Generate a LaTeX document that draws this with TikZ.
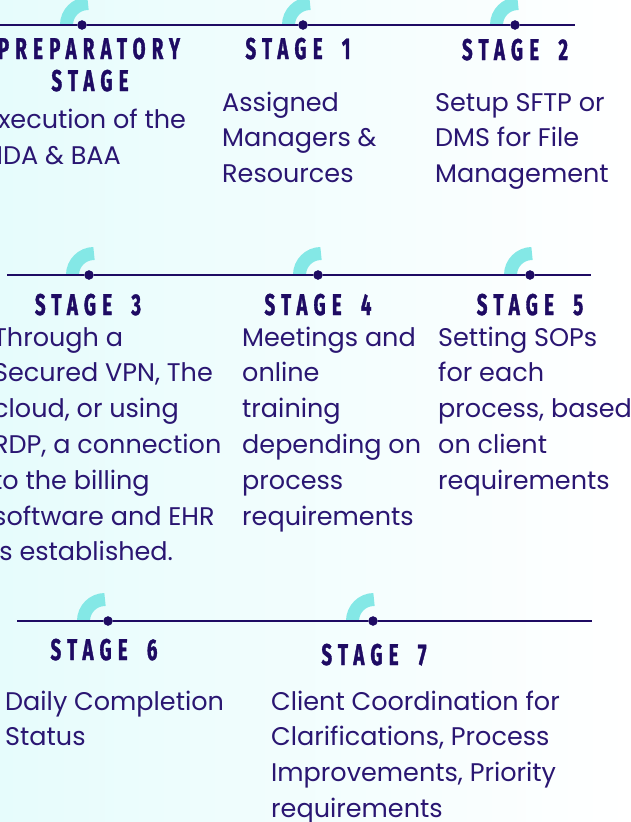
\documentclass[tikz,border=0pt]{standalone}
\usepackage{fontspec}
\setmainfont{Poppins}
\newfontfamily\stagefont{Fira Sans}[FakeStretch=0.62,LetterSpace=21,FakeBold=1.2,WordSpace=1.8]
\usetikzlibrary{positioning,calc}
\definecolor{tl}{HTML}{1E0B63}
\definecolor{tx}{HTML}{2A1672}
\definecolor{ringc}{HTML}{84E8E6}
\definecolor{bgl}{HTML}{E6FCFC}

\begin{document}
\begin{tikzpicture}[x=1pt,y=-1pt,
  dot/.style={draw=tl,fill=tl,circle,inner sep=0pt,minimum size=9pt},
  ring/.style={draw=ringc,line width=13pt,line cap=butt},
  tline/.style={draw=tl,line width=2.2pt},
  title/.style={anchor=base,text=tl,font=\stagefont\bfseries\fontsize{30}{32}\selectfont,inner sep=0pt},
  body/.style={anchor=base west,align=left,text=tx,font=\fontsize{25.5}{35.8}\selectfont,inner sep=0pt}]

\useasboundingbox(0,0)rectangle(630,822);
\clip(0,0)rectangle(630,822);
\shade[left color=bgl,right color=white](0,0)rectangle(630,822);

% timeline dots
\node[dot](d0) at (82,25) {};
\node[dot](d1) at (303,25) {};
\node[dot](d2) at (515,25) {};
\node[dot](d3) at (89,275) {};
\node[dot](d4) at (318,275) {};
\node[dot](d5) at (530,275) {};
\node[dot](d6) at (108,621) {};
\node[dot](d7) at (373,621) {};

\coordinate(a1) at (0,25);
\coordinate(b1) at (575,25);
\coordinate(a2) at (7,275);
\coordinate(b2) at (591,275);
\coordinate(a3) at (17,621);
\coordinate(b3) at (592,621);

% quarter rings, slightly shifted off the dots
\foreach \n/\o in {d0/6,d1/7,d2/3,d3/5,d4/3,d5/2,d6/-3,d7/1}{
	\draw[ring]($(\n.center)+(\o-21.5,0)$) arc[start angle=180,end angle=90,radius=21.5pt];
}

\draw[tline](a1)--(d0)--(d1)--(d2)--(b1);
\draw[tline](a2)--(d3)--(d4)--(d5)--(b2);
\draw[tline](a3)--(d6)--(d7)--(b3);

% titles
\node[title](t0) at (89,59) {PREPARATORY};
\node[title](t0b) at (90,91) {STAGE};
\node[title](t1) at (298,59) {STAGE 1};
\node[title](t2) at (515,60) {STAGE 2};
\node[title](t3) at (88,315) {STAGE 3};
\node[title](t4) at (318,315) {STAGE 4};
\node[title](t5) at (530,315) {STAGE 5};
\node[title](t6) at (104,660) {STAGE 6};
\node[title](t7) at (374,665) {STAGE 7};

% texts (placed at the baseline of their last line)
\node[body](s0) at (-15,164) {Execution of the\\NDA \& BAA};
\node[body](s1) at (222,182.6) {Assigned\\Managers \&\\Resources};
\node[body](s2) at (435,182.6) {Setup SFTP or\\DMS for File\\Management};
\node[body](s3) at (-7,560.8) {Through a\\Secured VPN, The\\cloud, or using\\RDP, a connection\\to the billing\\software and EHR\\is established.};
\node[body](s4) at (242,525) {Meetings and\\online\\training\\depending on\\process\\requirements};
\node[body](s5) at (438,489.2) {Setting SOPs\\for each\\process, based\\on client\\requirements};
\node[body](s6) at (5,745.8) {Daily Completion\\Status};
\node[body](s7) at (271,817.4) {Client Coordination for\\Clarifications, Process\\Improvements, Priority\\requirements};

\end{tikzpicture}
\end{document}
